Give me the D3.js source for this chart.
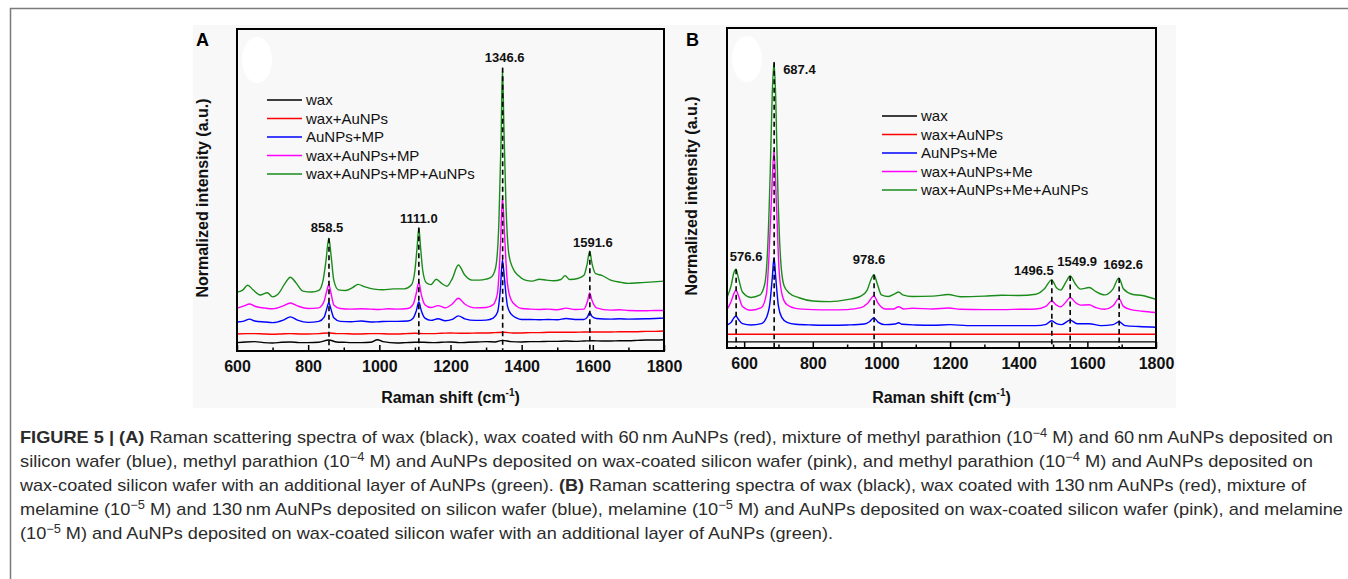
<!DOCTYPE html>
<html>
<head>
<meta charset="utf-8">
<script src="https://cdn.jsdelivr.net/npm/d3@7"></script>
<style>
  body { margin: 0; background: #fff; }
  svg { display: block; font-family: "Liberation Sans", Arial, sans-serif; }
</style>
</head>
<body>
<div id="figure"></div>
<script>
// Figure size
var svgWidth = 1348;
var svgHeight = 579;

// ---- data (Raman shift in cm-1, normalized intensity in a.u.) ----
var shiftTicks = [600, 800, 1000, 1200, 1400, 1600, 1800];
var minorTicks = [700, 900, 1100, 1300, 1500, 1700];

var legendA = ["wax", "wax+AuNPs", "AuNPs+MP", "wax+AuNPs+MP", "wax+AuNPs+MP+AuNPs"];
var legendB = ["wax", "wax+AuNPs", "AuNPs+Me", "wax+AuNPs+Me", "wax+AuNPs+Me+AuNPs"];

var peaksA = [858.5, 1111.0, 1346.6, 1591.6];
var peaksB = [576.6, 687.4, 978.6, 1496.5, 1549.9, 1692.6];

// panel A spectra
var waxA = [[600,2.6],[625,2.8],[650,2.9],[675,2.6],[700,2.5],[725,2.7],[750,2.8],[775,2.6],[800,2.6],[830,2.7],[858,3.4],[880,2.8],[900,2.7],[925,2.6],[950,2.6],[975,2.7],[995,3.5],[1010,2.9],[1050,2.5],[1075,2.6],[1100,2.7],[1125,2.7],[1150,2.6],[1175,2.7],[1200,2.8],[1225,2.6],[1250,2.7],[1275,2.8],[1300,2.9],[1325,2.8],[1346,3.3],[1370,2.9],[1400,2.8],[1425,2.9],[1450,2.9],[1475,3.0],[1500,3.0],[1525,3.1],[1550,3.0],[1575,3.1],[1600,3.2],[1625,3.1],[1650,3.1],[1675,3.2],[1700,3.2],[1725,3.3],[1750,3.4],[1775,3.4],[1800,3.5]];
var redA = [[600,5.3],[625,5.4],[650,5.4],[675,5.3],[700,5.2],[725,5.3],[750,5.4],[775,5.3],[800,5.3],[830,5.4],[858,5.6],[880,5.4],[900,5.4],[925,5.3],[950,5.3],[975,5.4],[1000,5.4],[1025,5.3],[1050,5.3],[1075,5.4],[1100,5.5],[1125,5.4],[1150,5.4],[1175,5.5],[1200,5.6],[1225,5.5],[1250,5.5],[1275,5.6],[1300,5.6],[1325,5.7],[1350,5.8],[1375,5.6],[1400,5.6],[1425,5.7],[1450,5.7],[1475,5.8],[1500,5.8],[1525,5.8],[1550,5.8],[1575,5.9],[1600,5.9],[1625,5.9],[1650,5.9],[1675,6.0],[1700,6.0],[1725,6.0],[1750,6.1],[1775,6.1],[1800,6.2]];
var blueA = [[600,9.0],[620,9.3],[635,9.9],[650,9.3],[680,9.0],[700,8.8],[730,9.6],[750,10.6],[770,9.6],[800,8.9],[830,9.2],[845,10.5],[852,13.0],[858,15.0],[864,13.0],[872,10.3],[890,9.2],[920,9.1],[950,9.3],[975,9.0],[1000,9.1],[1025,9.2],[1050,9.2],[1080,9.3],[1095,10.2],[1104,12.5],[1111,15.2],[1118,12.5],[1128,10.2],[1145,9.5],[1165,10.0],[1185,9.4],[1205,9.8],[1222,10.9],[1240,10.0],[1270,9.5],[1300,9.6],[1320,10.2],[1332,12.0],[1340,19.0],[1346,28.3],[1352,22.0],[1360,14.0],[1370,11.5],[1385,10.3],[1400,9.8],[1425,9.8],[1450,9.7],[1475,9.8],[1500,9.7],[1525,10.1],[1550,9.8],[1575,9.8],[1585,10.6],[1591,12.0],[1598,10.7],[1610,10.1],[1650,9.9],[1675,10.0],[1700,9.9],[1750,10.0],[1775,10.1],[1800,10.2]];
var pinkA = [[600,13.3],[620,14.0],[635,14.6],[650,13.9],[680,13.3],[700,13.1],[730,14.0],[750,14.9],[770,14.0],[800,13.2],[830,13.4],[845,15.5],[852,18.5],[858,20.7],[864,18.0],[872,14.3],[890,13.2],[920,13.0],[950,13.1],[975,13.0],[1000,12.9],[1025,13.1],[1050,13.0],[1080,13.2],[1095,14.5],[1104,18.0],[1111,21.4],[1118,17.5],[1128,14.4],[1145,13.5],[1165,14.1],[1185,13.4],[1205,14.6],[1222,16.4],[1240,14.6],[1270,13.4],[1300,13.5],[1320,14.4],[1332,18.0],[1340,32.0],[1346,47.6],[1352,36.0],[1360,21.0],[1370,16.0],[1385,14.0],[1400,13.2],[1425,13.0],[1450,12.9],[1475,13.0],[1500,12.8],[1525,13.3],[1550,12.9],[1575,13.0],[1585,15.5],[1591,18.0],[1598,15.6],[1610,13.4],[1650,12.7],[1675,12.8],[1700,12.6],[1750,12.5],[1775,12.6],[1800,12.6]];
var greenA = [[600,18.3],[615,18.8],[630,20.4],[645,19.0],[665,17.4],[685,18.1],[700,16.8],[715,17.6],[735,21.0],[750,22.9],[765,21.3],[785,18.6],[810,18.3],[830,18.8],[842,22.0],[850,28.0],[858,35.0],[865,29.0],[872,22.0],[885,19.0],[905,18.8],[925,19.7],[940,20.7],[960,19.9],[985,19.2],[1010,19.0],[1040,19.3],[1070,19.3],[1090,20.5],[1100,25.0],[1106,32.0],[1111,38.3],[1116,32.0],[1122,25.0],[1132,21.2],[1145,20.6],[1160,22.3],[1175,21.0],[1190,20.1],[1205,22.5],[1222,26.7],[1240,23.6],[1260,22.0],[1280,22.0],[1300,22.3],[1315,23.0],[1327,26.0],[1336,40.0],[1342,65.0],[1346,88.0],[1350,70.0],[1356,45.0],[1364,30.0],[1375,25.8],[1390,23.5],[1410,22.0],[1430,21.7],[1450,22.3],[1470,22.0],[1490,21.8],[1510,22.2],[1522,23.4],[1535,22.2],[1560,22.6],[1575,23.5],[1584,27.0],[1591,31.0],[1598,27.0],[1608,24.0],[1625,23.5],[1650,22.0],[1680,21.3],[1700,21.0],[1730,21.2],[1760,21.4],[1800,21.7]];

// panel B spectra
var waxB = [[550,1.9],[600,1.9],[650,1.9],[700,1.9],[750,1.9],[800,1.9],[850,1.9],[900,1.9],[950,1.9],[1000,1.9],[1050,1.9],[1100,1.9],[1150,1.9],[1200,1.9],[1250,1.9],[1300,1.9],[1350,1.9],[1400,1.9],[1450,1.9],[1500,1.9],[1550,1.9],[1600,1.9],[1650,1.9],[1700,1.9],[1750,1.9],[1800,1.9]];
var redB = [[550,4.3],[600,4.3],[650,4.3],[700,4.3],[750,4.3],[800,4.3],[850,4.3],[900,4.3],[950,4.3],[1000,4.3],[1050,4.3],[1100,4.3],[1150,4.3],[1200,4.3],[1250,4.3],[1300,4.3],[1350,4.3],[1400,4.3],[1450,4.3],[1500,4.3],[1550,4.3],[1600,4.3],[1650,4.3],[1700,4.3],[1750,4.3],[1800,4.3]];
var blueB = [[550,7.2],[562,8.0],[570,9.4],[576,10.0],[583,9.0],[595,7.6],[620,7.2],[650,7.6],[665,9.5],[675,14.0],[682,22.0],[687,28.3],[692,22.0],[700,13.0],[710,9.5],[725,8.0],[750,7.4],[800,7.2],[850,7.1],[900,7.2],[950,7.5],[965,8.2],[978,9.4],[990,8.1],[1010,7.3],[1040,7.5],[1050,7.9],[1060,7.4],[1100,7.2],[1150,7.1],[1200,7.3],[1250,7.0],[1300,7.0],[1350,7.0],[1400,7.0],[1450,7.0],[1480,7.4],[1496,8.5],[1510,7.6],[1525,7.3],[1550,8.7],[1570,7.6],[1605,7.6],[1640,7.0],[1675,7.3],[1692,8.2],[1710,7.0],[1750,6.7],[1800,6.5]];
var pinkB = [[550,12.0],[562,14.5],[570,17.0],[576,18.1],[583,16.5],[595,13.0],[620,11.8],[650,12.6],[665,17.0],[672,28.0],[680,48.0],[687,61.8],[694,45.0],[702,24.0],[712,16.0],[725,13.5],[750,12.4],[800,12.0],[850,11.9],[900,12.0],[940,12.6],[960,14.0],[978,16.3],[990,14.0],[1010,12.2],[1035,12.2],[1050,12.9],[1065,12.2],[1090,12.4],[1150,12.2],[1195,12.5],[1230,12.1],[1300,12.0],[1350,12.0],[1400,12.1],[1450,12.2],[1480,13.1],[1496,14.7],[1510,13.4],[1522,12.9],[1537,14.3],[1550,15.8],[1565,14.2],[1580,13.4],[1605,13.5],[1625,12.6],[1650,12.1],[1675,13.2],[1692,15.5],[1705,13.0],[1730,11.9],[1760,11.5],[1800,11.1]];
var greenB = [[550,15.8],[562,19.5],[570,23.5],[576,24.6],[583,22.0],[595,17.5],[620,15.8],[645,16.5],[660,20.0],[668,30.0],[676,55.0],[682,80.0],[687,89.3],[692,78.0],[698,50.0],[706,28.0],[716,19.5],[730,17.3],[760,15.7],[800,14.7],[850,14.5],[900,15.1],[940,16.2],[958,18.0],[970,21.5],[978,22.9],[988,20.0],[1000,16.6],[1020,16.1],[1040,17.0],[1050,17.5],[1062,16.6],[1090,16.1],[1150,16.2],[1195,16.7],[1230,16.0],[1300,16.2],[1350,16.5],[1400,16.4],[1450,16.8],[1475,18.5],[1496,21.3],[1510,18.8],[1522,18.1],[1537,20.5],[1550,22.5],[1565,20.0],[1580,18.4],[1605,18.9],[1625,17.6],[1650,16.6],[1675,18.5],[1692,21.9],[1705,18.5],[1730,16.8],[1760,16.4],[1800,15.2]];

var seriesColors = ["#000000", "#ff0000", "#0000ff", "#ff00ff", "#1a8c1a"];

// caption lines: each piece is [text, style] with style "b" bold, "sup" superscript
var captionLines = [
  [["FIGURE 5 | (A)", "b"], [" Raman scattering spectra of wax (black), wax coated with 60\u2009nm AuNPs (red), mixture of methyl parathion (10"], ["\u22124", "sup"], [" M) and 60\u2009nm AuNPs deposited on"]],
  [["silicon wafer (blue), methyl parathion (10"], ["\u22124", "sup"], [" M) and AuNPs deposited on wax-coated silicon wafer (pink), and methyl parathion (10"], ["\u22124", "sup"], [" M) and AuNPs deposited on"]],
  [["wax-coated silicon wafer with an additional layer of AuNPs (green). "], ["(B)", "b"], [" Raman scattering spectra of wax (black), wax coated with 130\u2009nm AuNPs (red), mixture of"]],
  [["melamine (10"], ["\u22125", "sup"], [" M) and 130\u2009nm AuNPs deposited on silicon wafer (blue), melamine (10"], ["\u22125", "sup"], [" M) and AuNPs deposited on wax-coated silicon wafer (pink), and melamine"]],
  [["(10"], ["\u22125", "sup"], [" M) and AuNPs deposited on wax-coated silicon wafer with an additional layer of AuNPs (green)."]]
];
var captionEnds = [1333, 1313, 1306, 1343, 833];

// ---- drawing ----
var svg = d3.select("#figure")
  .append("svg")
  .attr("width", svgWidth)
  .attr("height", svgHeight);

// page frame (top and left rule)
svg.append("path")
  .attr("d", "M10.5,579 V8.5 H1348")
  .attr("fill", "none")
  .attr("stroke", "#7a7a7a")
  .attr("stroke-width", 1.5);

// figure image background
svg.append("rect")
  .attr("x", 193).attr("y", 25)
  .attr("width", 983).attr("height", 383)
  .attr("fill", "#f8f8f8");

function drawPanel(p) {
  var g = svg.append("g");
  var width = p.right - p.left;
  var height = p.bottom - p.top;

  var x = d3.scaleLinear().domain(p.domain).range([p.left, p.right]);
  var y = d3.scaleLinear().domain([0, 100]).range([p.bottom, p.top]);

  // white blob in the corner of the original figure
  g.append("ellipse")
    .attr("cx", p.left + 20).attr("cy", p.top + 31)
    .attr("rx", 15).attr("ry", 23)
    .attr("fill", "#ffffff");

  // spectra
  var line = d3.line()
    .x(d => x(d[0]))
    .y(d => y(d[1]))
    .curve(d3.curveMonotoneX);

  g.selectAll(".spectrum")
    .data(p.series)
    .enter()
    .append("path")
    .attr("class", "spectrum")
    .attr("d", line)
    .attr("fill", "none")
    .attr("stroke", (d, i) => seriesColors[i])
    .attr("stroke-width", 1.4);

  // dashed peak markers, from top of the top spectrum down to the axis
  var top = p.series[p.series.length - 1];
  function peakHeight(v) {
    var near = top.filter(d => Math.abs(d[0] - v) <= 6);
    return d3.max(near, d => d[1]);
  }

  g.selectAll(".peakline")
    .data(p.peaks)
    .enter()
    .append("line")
    .attr("x1", d => x(d)).attr("x2", d => x(d))
    .attr("y1", d => y(peakHeight(d)))
    .attr("y2", p.bottom)
    .attr("stroke", "#000")
    .attr("stroke-width", 1.6)
    .attr("stroke-dasharray", "5,3.5");

  g.selectAll(".peaklabel")
    .data(p.peaks)
    .enter()
    .append("text")
    .attr("x", (d, i) => x(d) + p.labelOffsets[i][0])
    .attr("y", (d, i) => y(peakHeight(d)) + p.labelOffsets[i][1])
    .attr("text-anchor", (d, i) => p.labelOffsets[i][2] || "middle")
    .style("font-size", "13px")
    .style("font-weight", "bold")
    .attr("fill", "#111")
    .text(d => d.toFixed(1));

  // x axis, ticks pointing inwards
  var bottomAxis = d3.axisBottom(x)
    .tickValues(shiftTicks)
    .tickSize(-6)
    .tickPadding(10)
    .tickFormat(d3.format("d"));

  var xAxis = g.append("g")
    .attr("transform", `translate(0, ${p.bottom})`)
    .call(bottomAxis);
  xAxis.select(".domain").remove();
  xAxis.selectAll("line").attr("stroke", "#000").attr("stroke-width", 1.5);
  xAxis.selectAll("text")
    .style("font-size", "16px")
    .style("font-weight", "bold")
    .style("font-family", "Liberation Sans, Arial, sans-serif")
    .attr("fill", "#111");

  var minorAxis = d3.axisBottom(x)
    .tickValues(minorTicks)
    .tickSize(-3.5)
    .tickFormat("");
  var xMinor = g.append("g")
    .attr("transform", `translate(0, ${p.bottom})`)
    .call(minorAxis);
  xMinor.select(".domain").remove();
  xMinor.selectAll("line").attr("stroke", "#000").attr("stroke-width", 1.5);

  // frame
  g.append("rect")
    .attr("x", p.left).attr("y", p.top)
    .attr("width", width).attr("height", height)
    .attr("fill", "none")
    .attr("stroke", "#000")
    .attr("stroke-width", 2);

  // axis titles
  var xTitle = g.append("text")
    .attr("x", (p.left + p.right) / 2)
    .attr("y", 403)
    .attr("text-anchor", "middle")
    .style("font-size", "16px")
    .style("font-weight", "bold")
    .attr("fill", "#111");
  xTitle.append("tspan").text("Raman shift (cm");
  xTitle.append("tspan").attr("dy", -7).style("font-size", "10px").text("-1");
  xTitle.append("tspan").attr("dy", 7).text(")");

  g.append("text")
    .attr("transform", `translate(${p.yTitleX}, ${(p.top + p.bottom) / 2 + 8}) rotate(-90)`)
    .attr("text-anchor", "middle")
    .style("font-size", "16px")
    .style("font-weight", "bold")
    .attr("fill", "#111")
    .text("Normalized intensity (a.u.)");

  // panel letter
  g.append("text")
    .attr("x", p.letterX).attr("y", 46)
    .style("font-size", "18px")
    .style("font-weight", "bold")
    .attr("fill", "#000")
    .text(p.letter);

  // legend
  var legend = g.append("g")
    .attr("transform", `translate(${p.legendX}, ${p.legendY})`);
  var rows = legend.selectAll("g")
    .data(p.legend)
    .enter()
    .append("g")
    .attr("transform", (d, i) => `translate(0, ${i * 18.5})`);
  rows.append("line")
    .attr("x1", 0).attr("x2", 35)
    .attr("stroke", (d, i) => seriesColors[i])
    .attr("stroke-width", 1.6);
  rows.append("text")
    .attr("x", 39)
    .attr("dy", "0.35em")
    .style("font-size", "15px")
    .attr("fill", "#111")
    .text(d => d);
}

drawPanel({
  left: 237, right: 664, top: 29, bottom: 351,
  domain: [600, 1800],
  series: [waxA, redA, blueA, pinkA, greenA],
  legend: legendA, legendX: 267, legendY: 100,
  peaks: peaksA,
  labelOffsets: [[-2, -6], [0, -5], [2, -6], [3, -4]],
  letter: "A", letterX: 196, yTitleX: 208
});

drawPanel({
  left: 727, right: 1156, top: 28, bottom: 348,
  domain: [550, 1800],
  series: [waxB, redB, blueB, pinkB, greenB],
  legend: legendB, legendX: 882, legendY: 116,
  peaks: peaksB,
  labelOffsets: [[10, -8], [9, 12, "start"], [-5, -11], [-18, -5], [7, -10], [4, -9]],
  letter: "B", letterX: 686, yTitleX: 697
});

// caption
var caption = svg.append("g")
  .style("font-family", "'Liberation Sans Narrow', 'Liberation Sans', Arial, sans-serif")
  .style("font-size", "17px")
  .attr("fill", "#2b2b2b");

captionLines.forEach(function(parts, i) {
  var t = caption.append("text")
    .attr("x", 20)
    .attr("y", 443 + i * 24);
  var shift = 0;
  parts.forEach(function(part) {
    var span = t.append("tspan");
    if (part[1] === "sup") {
      span.attr("dy", -6 - shift).style("font-size", "12px");
      shift = -6;
    } else {
      span.attr("dy", -shift)
        .style("font-weight", part[1] === "b" ? "bold" : "normal");
      shift = 0;
    }
    span.text(part[0]);
  });
  t.attr("textLength", captionEnds[i] - 20)
    .attr("lengthAdjust", "spacingAndGlyphs");
});
</script>
</body>
</html>
